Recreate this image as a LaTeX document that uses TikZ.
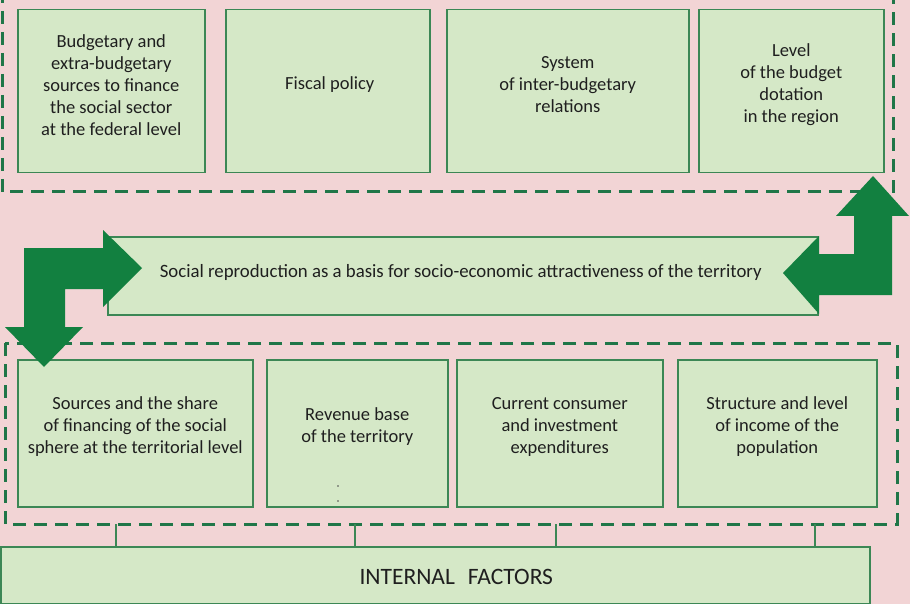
\documentclass[tikz,border=0pt]{standalone}
\usepackage{fontspec}
\setmainfont{Carlito}
\definecolor{bg}{RGB}{242,212,213}
\definecolor{boxfill}{RGB}{213,232,199}
\definecolor{boxline}{RGB}{60,135,85}
\definecolor{dashc}{RGB}{32,118,72}
\definecolor{arrowc}{RGB}{18,128,64}
\begin{document}
\begin{tikzpicture}[x=1pt,y=-1pt,
  frame/.style={draw=dashc, line width=3pt, dash pattern=on 13pt off 8pt},
  fbox/.style={draw=boxline, fill=boxfill, line width=1.5pt, inner sep=0pt, anchor=north west},
  txt/.style={align=center, font=\fontsize{18.5}{22}\selectfont, text=black!88},
  conn/.style={draw=boxline, line width=1.2pt},
  bigarrow/.style={fill=arrowc, draw=none}]
\fill[bg] (0,0) rectangle (910,604);
\useasboundingbox (0,0) rectangle (910,604);
% frames
\draw[frame] (2,-10) rectangle (893,192);
\draw[frame] (5,343) rectangle (897,524);
\coordinate (c1) at (116,524);
\coordinate (c2) at (355,524);
\coordinate (c3) at (556,524);
\coordinate (c4) at (815,524);
% top boxes
\node[fbox, minimum width=187pt, minimum height=163pt] (t1) at (17,9) {};
\node[fbox, minimum width=204pt, minimum height=163pt] (t2) at (225,9) {};
\node[fbox, minimum width=242pt, minimum height=163pt] (t3) at (446,9) {};
\node[fbox, minimum width=185pt, minimum height=163pt] (t4) at (698,9) {};
\node[txt] at ([yshift=6.5pt]t1.center) {Budgetary and\\extra-budgetary\\sources to finance\\the social sector\\at the federal level};
\node[txt] at ([yshift=6.5pt,xshift=2pt]t2.center) {Fiscal policy};
\node[txt] at ([yshift=6.5pt]t3.center) {System\\of inter-budgetary\\relations};
\node[txt] at ([yshift=6.5pt]t4.center) {Level\\of the budget\\dotation\\in the region};
% middle box
\node[fbox, minimum width=710pt, minimum height=78pt] (mid) at (107,236) {};
\node[txt, font=\fontsize{18.8}{22}\selectfont] at ([yshift=3pt,xshift=-2pt]mid.center) {Social reproduction as a basis for socio-economic attractiveness of the territory};
% bottom boxes
\node[fbox, minimum width=235pt, minimum height=147pt] (b1) at (17,359) {};
\node[fbox, minimum width=181pt, minimum height=147pt] (b2) at (266,359) {};
\node[fbox, minimum width=206pt, minimum height=147pt] (b3) at (456,359) {};
\node[fbox, minimum width=199pt, minimum height=147pt] (b4) at (677,359) {};
\node[txt] at ([yshift=6.5pt]b1.center) {Sources and the share\\of financing of the social\\sphere at the territorial level};
\node[txt] at ([yshift=6.5pt]b2.center) {Revenue base\\of the territory};
\node[txt] at ([yshift=6.5pt]b3.center) {Current consumer\\and investment\\expenditures};
\node[txt] at ([yshift=6.5pt]b4.center) {Structure and level\\of income of the\\population};
\fill[black!70] (338,486) circle (0.9);
\fill[black!70] (338,501) circle (0.9);
% internal factors
\node[fbox, minimum width=869pt, minimum height=57pt] (int) at (0,546) {};
\node[font=\fontsize{23.5}{26}\selectfont, text=black!88] at ([yshift=-2pt,xshift=21pt]int.center) {INTERNAL\hspace{0.55em}FACTORS};
\foreach \c in {c1,c2,c3,c4}{\draw[conn] (\c) -- (\c |- int.north);}
% big arrows
\fill[bigarrow] (142,268) -- (103,230) -- (103,248) -- (24,248) -- (24,327) -- (5,327)
  -- (44,367) -- (83,327) -- (65,327) -- (65,289) -- (103,289) -- (103,307) -- cycle;
\fill[bigarrow] (783,273) -- (819,236) -- (819,254) -- (854,254) -- (854,216) -- (836,216)
  -- (873,176) -- (909,216) -- (892,216) -- (892,295) -- (819,295) -- (819,314) -- cycle;
\end{tikzpicture}
\end{document}
